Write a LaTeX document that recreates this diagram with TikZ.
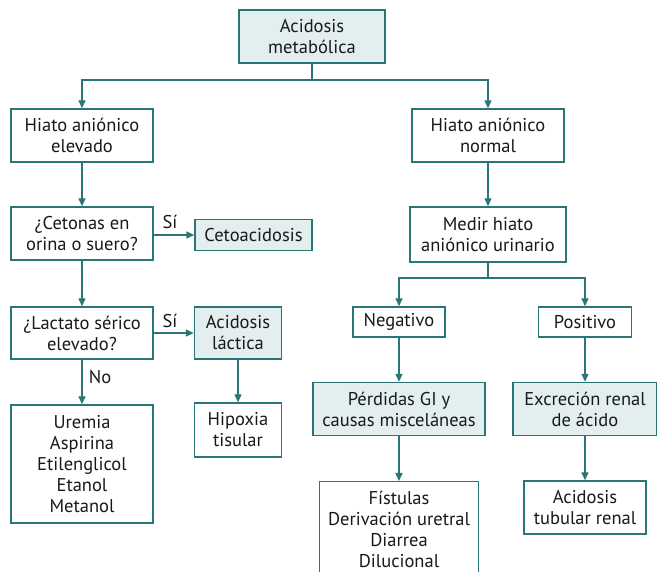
\documentclass[tikz,border=0pt]{standalone}
\usepackage{fontspec}
\setmainfont{PT Sans}
\usetikzlibrary{arrows.meta}
\definecolor{teal1}{HTML}{2A7577}
\definecolor{fill1}{HTML}{E3EEEF}
\begin{document}
\begin{tikzpicture}[x=1pt,y=-1pt,
  box/.style={draw=teal1,line width=1.4pt,fill=white,align=center,inner sep=0pt,
    font=\fontsize{18.5}{21}\selectfont,text=black!90},
  shaded/.style={box,fill=fill1},
  conn/.style={draw=teal1,line width=1.4pt},
  arr/.style={conn,-{Triangle[length=8pt,width=7pt]}},
  lbl/.style={font=\fontsize{18.5}{21}\selectfont,text=black!90,inner sep=0pt}]
\useasboundingbox (0,0) rectangle (657,572);
\clip (0,0) rectangle (657,572);
% boxes
\node[shaded,minimum width=146,minimum height=53] (top) at (312,36.5) {Acidosis\\metabólica};
\node[box,minimum width=142,minimum height=53] (hel) at (82,135.5) {Hiato aniónico\\elevado};
\node[box,minimum width=152,minimum height=53] (hno) at (488,135.5) {Hiato aniónico\\normal};
\node[box,minimum width=142,minimum height=53] (cet) at (82,233.5) {¿Cetonas en\\orina o suero?};
\node[shaded,minimum width=117,minimum height=31] (ceto) at (253.5,235) {Cetoacidosis};
\node[box,minimum width=142,minimum height=52] (lac) at (82,333) {¿Lactato sérico\\elevado?};
\node[shaded,minimum width=87,minimum height=52] (laca) at (238,333) {Acidosis\\láctica};
\node[box,minimum width=142,minimum height=118] (urem) at (82,464) {Uremia\\Aspirina\\Etilenglicol\\Etanol\\Metanol};
\node[box,minimum width=87,minimum height=54] (hip) at (238,430) {Hipoxia\\tisular};
\node[box,minimum width=156,minimum height=55] (med) at (488,234.5) {Medir hiato\\aniónico urinario};
\node[box,minimum width=92,minimum height=30] (neg) at (399,322) {Negativo};
\node[box,minimum width=93,minimum height=30] (pos) at (585,322) {Positivo};
\node[shaded,minimum width=172,minimum height=53] (per) at (399,409) {Pérdidas GI y\\causas misceláneas};
\node[shaded,minimum width=144,minimum height=53] (exc) at (585,409) {Excreción renal\\de ácido};
\node[box,minimum width=159,minimum height=95,anchor=north] (fis) at (399,481) {Fístulas\\Derivación uretral\\Diarrea\\Dilucional};
\node[box,minimum width=122,minimum height=53] (atr) at (585,507.5) {Acidosis\\tubular renal};
% connectors
\coordinate (split1) at (312,80);
\coordinate (split2) at (488,278);
\draw[conn] (top.south) -- (split1);
\draw[arr] (split1) -| (hel.north);
\draw[arr] (split1) -| (hno.north);
\draw[arr] (hel) -- (cet);
\draw[arr] (hno) -- (med);
\draw[arr] (cet.east |- ceto) -- (ceto.west);
\draw[arr] (cet) -- (lac);
\draw[arr] (lac.east |- laca) -- (laca.west);
\draw[arr] (lac) -- (urem);
\draw[arr] (laca) -- (hip);
\draw[conn] (med.south) -- (split2);
\draw[arr] (split2) -| (neg.north);
\draw[arr] (split2) -| (pos.north);
\draw[arr] (neg) -- (per);
\draw[arr] (pos) -- (exc);
\draw[arr] (per) -- (per |- fis.north);
\draw[arr] (exc) -- (atr);
% branch labels
\node[lbl] (si1) at (170,222) {Sí};
\node[lbl] (si2) at (170,321) {Sí};
\node[lbl] (no) at (100,377) {No};
\end{tikzpicture}
\end{document}
